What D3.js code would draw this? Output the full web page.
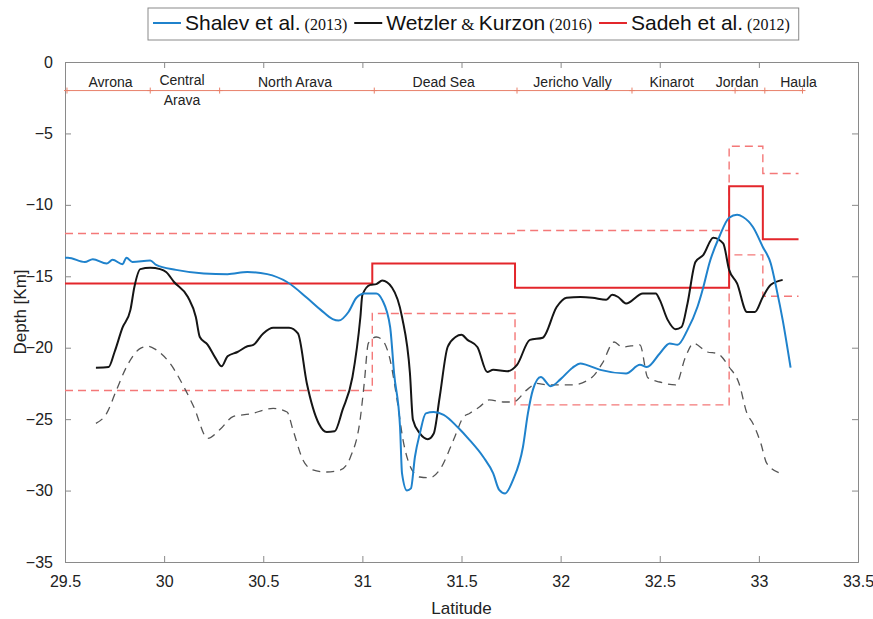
<!DOCTYPE html>
<html>
<head>
<meta charset="UTF-8">
<title>Moho depth along the rift</title>
<script src="https://d3js.org/d3.v7.min.js"></script>
<style>
  body { margin: 0; background: #fff; }
  text { font-family: "Liberation Sans Narrow", "Arial Narrow", "Liberation Sans", Arial, sans-serif; }
</style>
</head>
<body>
<script>
// Shalev et al. (2013) - [latitude, depth]
const shalev = [
  [29.5, -13.7], [29.515, -13.7], [29.6, -14.0], [29.64, -13.8], [29.71, -14.1], [29.74, -13.85],
  [29.79, -14.15], [29.81, -13.7], [29.84, -14.0], [29.93, -13.9], [29.96, -14.2], [30.06, -14.55],
  [30.2, -14.8], [30.32, -14.85], [30.42, -14.7], [30.52, -14.85], [30.62, -15.4], [30.72, -16.5],
  [30.79, -17.35], [30.85, -18.0], [30.88, -18.1], [30.93, -17.5], [30.97, -16.5], [31.01, -16.2],
  [31.07, -16.2], [31.1, -16.65], [31.14, -18.55], [31.16, -21.8], [31.19, -25.55], [31.2, -28.8],
  [31.225, -30.0], [31.245, -29.85], [31.265, -27.65], [31.29, -26.0], [31.32, -24.6], [31.36, -24.5],
  [31.41, -24.7], [31.48, -25.55], [31.54, -26.45], [31.61, -27.65], [31.66, -28.8], [31.69, -29.95],
  [31.72, -30.2], [31.76, -29.25], [31.81, -26.95], [31.835, -24.6], [31.86, -22.95], [31.9, -22.05],
  [31.95, -22.7], [32.0, -22.2], [32.06, -21.4], [32.1, -21.1], [32.13, -21.2], [32.2, -21.55],
  [32.33, -21.8], [32.4, -21.2], [32.435, -21.35], [32.5, -20.4], [32.55, -19.7], [32.59, -19.8],
  [32.64, -18.75], [32.69, -17.15], [32.72, -15.75], [32.75, -14.1], [32.8, -12.25], [32.85, -10.9],
  [32.89, -10.7], [32.92, -10.85], [32.97, -11.55], [33.02, -12.95], [33.06, -14.1], [33.09, -15.95],
  [33.12, -18.05], [33.16, -21.4]
];

// Wetzler & Kurzon (2016)
const wetzler = [
  [29.656, -21.4], [29.72, -21.35], [29.75, -20.3], [29.79, -18.6], [29.83, -17.35], [29.85, -15.75],
  [29.88, -14.5], [29.93, -14.4], [29.98, -14.5], [30.01, -14.7], [30.05, -15.4], [30.12, -16.45],
  [30.16, -17.85], [30.18, -19.25], [30.22, -19.8], [30.26, -20.75], [30.29, -21.3], [30.32, -20.6],
  [30.37, -20.3], [30.42, -19.9], [30.45, -19.8], [30.5, -19.0], [30.55, -18.6], [30.63, -18.6],
  [30.675, -19.0], [30.72, -22.5], [30.78, -25.3], [30.82, -25.9], [30.86, -25.85], [30.9, -24.35],
  [30.95, -22.05], [30.99, -17.85], [31.0, -16.3], [31.04, -15.6], [31.07, -15.55], [31.1, -15.3],
  [31.15, -15.8], [31.2, -17.85], [31.24, -21.8], [31.255, -25.05], [31.29, -26.0], [31.33, -26.4],
  [31.36, -26.0], [31.39, -23.45], [31.43, -19.95], [31.47, -19.25], [31.5, -19.1], [31.53, -19.45],
  [31.58, -19.95], [31.63, -21.7], [31.66, -21.55], [31.73, -21.65], [31.78, -21.2], [31.845, -19.45],
  [31.91, -19.3], [31.98, -17.15], [32.03, -16.5], [32.1, -16.45], [32.16, -16.5], [32.23, -16.65],
  [32.26, -16.3], [32.29, -16.45], [32.33, -16.9], [32.415, -16.2], [32.48, -16.2], [32.5, -16.65],
  [32.54, -18.05], [32.58, -18.7], [32.61, -18.55], [32.64, -16.9], [32.68, -14.0], [32.72, -13.5],
  [32.77, -12.3], [32.82, -12.7], [32.85, -14.55], [32.89, -15.5], [32.94, -17.5], [32.98, -17.5],
  [33.02, -16.45], [33.06, -15.6], [33.12, -15.25]
];

// Wetzler & Kurzon (2016), lower dashed curve
const wetzlerLow = [
  [29.656, -25.3], [29.71, -24.6], [29.76, -22.95], [29.81, -21.35], [29.88, -20.05], [29.92, -19.9],
  [29.96, -20.15], [30.03, -21.1], [30.1, -22.75], [30.15, -24.15], [30.22, -26.35], [30.28, -25.75],
  [30.35, -24.8], [30.43, -24.65], [30.55, -24.25], [30.62, -24.5], [30.65, -25.75], [30.7, -27.85],
  [30.75, -28.55], [30.82, -28.7], [30.89, -28.55], [30.94, -27.65], [30.99, -24.9], [31.01, -22.4],
  [31.03, -19.7], [31.07, -19.25], [31.1, -19.45], [31.14, -20.85], [31.175, -23.65], [31.205, -26.45],
  [31.25, -28.55], [31.29, -29.05], [31.34, -29.1], [31.39, -28.55], [31.46, -26.45], [31.51, -24.85],
  [31.54, -24.6], [31.59, -24.15], [31.64, -23.65], [31.71, -23.8], [31.76, -23.8], [31.83, -22.95],
  [31.88, -22.5], [31.93, -22.6], [32.06, -22.6], [32.16, -22.05], [32.21, -21.1], [32.27, -19.6],
  [32.31, -19.95], [32.4, -19.8], [32.44, -22.1], [32.5, -22.4], [32.58, -22.6], [32.63, -20.65],
  [32.67, -19.7], [32.74, -20.3], [32.79, -20.4], [32.85, -21.35], [32.9, -22.5], [32.94, -24.6],
  [32.97, -25.3], [33.01, -26.7], [33.04, -28.1], [33.11, -28.8]
];

// Sadeh et al. (2012) step model: value holds from each latitude to the next
const sadeh = [[29.5, -15.5], [31.05, -14.1], [31.77, -15.8], [32.85, -8.7], [33.02, -12.4], [33.2, -12.4]];
const sadehUpper = [[29.5, -12.0], [31.77, -11.8], [32.85, -5.9], [33.02, -7.8], [33.2, -7.8]];
const sadehLower = [[29.5, -23.0], [31.05, -17.6], [31.77, -24.0], [32.85, -13.5], [33.02, -16.4], [33.2, -16.4]];

// regions along the profile
const regionBounds = [29.51, 29.93, 30.28, 31.06, 31.78, 32.36, 32.88, 33.03, 33.22];
const regionNames = ["Avrona", "Central\nArava", "North Arava", "Dead Sea", "Jericho Vally", "Kinarot", "Jordan", "Haula"];
const regionLabelLat = [29.73, 30.09, 30.66, 31.41, 32.06, 32.56, 32.89, 33.2];
const regionDepth = -2;

const xTicks = [29.5, 30, 30.5, 31, 31.5, 32, 32.5, 33, 33.5];
const yTicks = [0, -5, -10, -15, -20, -25, -30, -35];

const width = 873, height = 619;
const margin = { top: 62, right: 15, bottom: 57, left: 65 };

const svg = d3.select("body").append("svg")
  .attr("width", width).attr("height", height);

const x = d3.scaleLinear().domain([29.5, 33.5]).range([margin.left, width - margin.right]);
const y = d3.scaleLinear().domain([-35, 0]).range([height - margin.bottom, margin.top]);

const axisColor = "#8a8a8a";

// axes with inward ticks, box on all four sides
svg.append("g")
  .attr("transform", `translate(0,${height - margin.bottom})`)
  .call(d3.axisBottom(x).tickValues(xTicks).tickSize(-6).tickPadding(14).tickFormat(d3.format("")));
svg.append("g")
  .attr("transform", `translate(0,${margin.top})`)
  .call(d3.axisTop(x).tickValues(xTicks).tickSize(-6).tickFormat(""));
svg.append("g")
  .attr("transform", `translate(${margin.left},0)`)
  .call(d3.axisLeft(y).tickValues(yTicks).tickSize(-6).tickPadding(12));
svg.append("g")
  .attr("transform", `translate(${width - margin.right},0)`)
  .call(d3.axisRight(y).tickValues(yTicks).tickSize(-6).tickFormat(""));

svg.selectAll(".domain").attr("stroke", axisColor);
svg.selectAll(".tick line").attr("stroke", axisColor);
svg.selectAll(".tick text").attr("fill", "#222").style("font-size", "16px")
  .style("font-family", "'Liberation Sans Narrow', 'Arial Narrow', sans-serif");

// axis titles
svg.append("text")
  .attr("x", x(31.5)).attr("y", 614)
  .attr("text-anchor", "middle")
  .style("font-family", "'Liberation Sans', Arial, sans-serif")
  .style("font-size", "17px").attr("fill", "#222")
  .text("Latitude");
svg.append("text")
  .attr("transform", `translate(26,${y(-17.5)}) rotate(-90)`)
  .attr("text-anchor", "middle")
  .style("font-family", "'Liberation Sans', Arial, sans-serif")
  .style("font-size", "17px").attr("fill", "#222")
  .text("Depth [Km]");

const line = d3.line().x(d => x(d[0])).y(d => y(d[1])).curve(d3.curveMonotoneX);
const step = d3.line().x(d => x(d[0])).y(d => y(d[1])).curve(d3.curveStepAfter);

const plot = svg.append("g");

// region profile line
plot.append("line")
  .attr("x1", x(regionBounds[0])).attr("x2", x(regionBounds[regionBounds.length - 1]))
  .attr("y1", y(regionDepth)).attr("y2", y(regionDepth))
  .attr("stroke", "#e8806a").attr("stroke-width", 1);
plot.selectAll(".rmark").data(regionBounds).enter().append("path")
  .attr("d", d => `M${x(d) - 3},${y(regionDepth)}h6M${x(d)},${y(regionDepth) - 3}v6`)
  .attr("stroke", "#e8806a").attr("stroke-width", 1);
plot.selectAll(".rlabel").data(regionNames).enter().append("text")
  .attr("x", (d, i) => x(regionLabelLat[i]))
  .attr("y", y(-1.4) + 5)
  .attr("text-anchor", "middle")
  .style("font-size", "14px").attr("fill", "#222")
  .each(function (d) {
    const parts = d.split("\n");
    const t = d3.select(this);
    if (parts.length > 1) t.attr("y", y(-1.4) + 3);
    parts.forEach((p, k) => t.append("tspan")
      .attr("x", t.attr("x")).attr("dy", k ? 20 : 0).text(p));
  });

// Sadeh model
plot.append("path").attr("d", step(sadehUpper))
  .attr("fill", "none").attr("stroke", "#f47878").attr("stroke-width", 1.4)
  .attr("stroke-dasharray", "8,5");
plot.append("path").attr("d", step(sadehLower))
  .attr("fill", "none").attr("stroke", "#f47878").attr("stroke-width", 1.4)
  .attr("stroke-dasharray", "8,5");

// Wetzler lower dashed
plot.append("path").attr("d", line(wetzlerLow))
  .attr("fill", "none").attr("stroke", "#555").attr("stroke-width", 1.3)
  .attr("stroke-dasharray", "8,6");

plot.append("path").attr("d", step(sadeh))
  .attr("fill", "none").attr("stroke", "#e3262b").attr("stroke-width", 2);

plot.append("path").attr("d", line(wetzler))
  .attr("fill", "none").attr("stroke", "#151515").attr("stroke-width", 2);

plot.append("path").attr("d", line(shalev))
  .attr("fill", "none").attr("stroke", "#1f82cc").attr("stroke-width", 2);

// legend
const legendItems = [
  { name: "Shalev et al.", year: "(2013)", color: "#1f82cc", amp: false },
  { name: "Wetzler", name2: "Kurzon", year: "(2016)", color: "#151515", amp: true },
  { name: "Sadeh et al.", year: "(2012)", color: "#e3262b", amp: false }
];
const legend = svg.append("g");
const legendBox = legend.append("rect")
  .attr("y", 8).attr("height", 32)
  .attr("fill", "#fff").attr("stroke", "#8a8a8a");
let lx = 153;
legendItems.forEach(it => {
  legend.append("line").attr("x1", lx).attr("x2", lx + 28).attr("y1", 23).attr("y2", 23)
    .attr("stroke", it.color).attr("stroke-width", 2);
  lx += 32;
  const t = legend.append("text").attr("x", lx).attr("y", 30)
    .style("font-size", "21px").attr("fill", "#111");
  t.append("tspan").text(it.name);
  if (it.amp) {
    t.append("tspan").style("font-family", "'Liberation Serif', serif").style("font-size", "17px").text(" & ");
    t.append("tspan").text(it.name2);
  }
  t.append("tspan").style("font-family", "'Liberation Serif', serif").style("font-size", "16px").text(" " + it.year);
  lx += t.node().getComputedTextLength() + 7;
});
legendBox.attr("x", 148).attr("width", lx - 148 + 2);
</script>
</body>
</html>
